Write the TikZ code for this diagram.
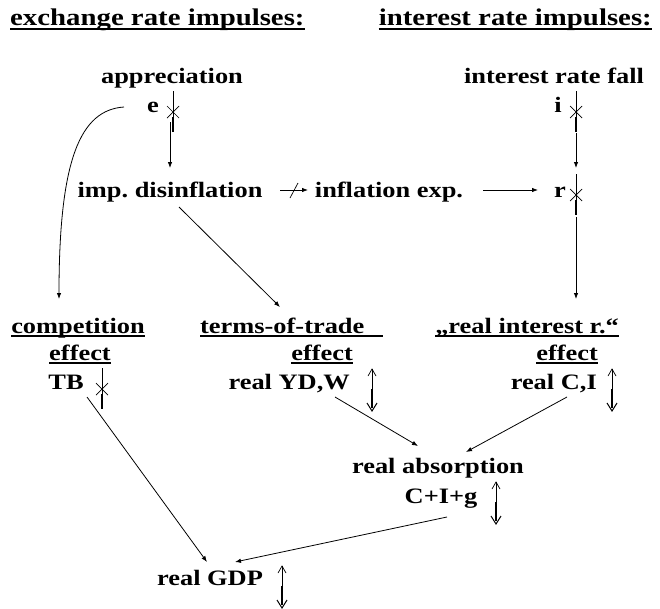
\documentclass[tikz,border=0pt]{standalone}
\usepackage{fontspec}
\newfontfamily\pal{Liberation Serif}[FakeStretch=1.2]
\usetikzlibrary{arrows.meta}
\tikzset{
  txt/.style={inner sep=0pt, anchor=base, font=\pal\bfseries\fontsize{22}{26}\selectfont},
  hdr/.style={inner sep=0pt, font=\pal\bfseries\fontsize{24}{28}\selectfont},
  ul/.style={line width=1.6pt},
  arr/.style={line width=0.8pt, -{Latex[length=6pt,width=4.5pt]}},
  thinln/.style={line width=0.7pt},
  crossed/.pic={
    \draw[thinln] (0,-21) -- (0,6);
    \draw[thinln] (-6,-6) -- (0,0) -- (6,-6);
    \draw[thinln] (-6,6) -- (0,0) -- (6,6);
    \draw[line width=2pt] (0,5) -- (0,20);
  },
  updown/.pic={
    \draw[thinln] (-4,7) -- (0,0) -- (4,7);
    \draw[thinln] (0,0) -- (0,22);
    \draw[line width=2pt] (0,20) -- (0,39);
    \draw[line width=1pt] (-5,34) -- (0,42) -- (5,34);
  }
}
\begin{document}
\begin{tikzpicture}[x=1pt,y=-1pt]
\useasboundingbox (0,0) rectangle (660,608);

% headers
\node[hdr, anchor=base west] (h1) at (10,25) {exchange rate impulses:};
\node[hdr, anchor=base east] (h2) at (652,25) {interest rate impulses:};
\draw[ul] ([yshift=-4pt]h1.base west) -- ([yshift=-4pt]h1.base east);
\draw[ul] ([yshift=-4pt]h2.base west) -- ([yshift=-4pt]h2.base east);

% texts
\node[txt] (app) at (172,83) {appreciation};
\node[txt] (e) at (153,112) {e};
\node[txt] (irf) at (554,83) {interest rate fall};
\node[txt] (i) at (558,112) {i};
\node[txt] (imp) at (170,197) {imp.\ disinflation};
\node[txt] (inf) at (389,197) {inflation exp.};
\node[txt] (r) at (560,197) {r};
\node[txt] (comp) at (78,333) {competition};
\node[txt] (ceff) at (80,360) {effect};
\node[txt] (tb) at (66,389) {TB};
\node[txt, anchor=base west] (tot) at (200,333) {terms-of-trade};
\node[txt, anchor=base east] (teff) at (353,360) {effect};
\node[txt, anchor=base east] (yd) at (350,389) {real YD,W};
\node[txt, anchor=base east] (rir) at (619,333) {„real interest r.“};
\node[txt, anchor=base east] (reff) at (598,360) {effect};
\node[txt, anchor=base east] (ci) at (597,389) {real C,I};
\node[txt] (abs) at (438,473) {real absorption};
\node[txt] (cig) at (441,503) {C+I+g};
\node[txt] (gdp) at (210,585) {real GDP};

% underlines
\foreach \n in {comp,ceff,teff,rir,reff}
  \draw[ul] ([yshift=-3pt]\n.base west) -- ([yshift=-3pt]\n.base east);
\draw[ul] ([yshift=-3pt]tot.base west) -- ([yshift=-3pt,xshift=18pt]tot.base east);

% change symbols
\pic at (173,112) {crossed};
\pic at (576,112) {crossed};
\pic at (576,195) {crossed};
\pic at (102,389) {crossed};
\pic at (372,369) {updown};
\pic at (612,369) {updown};
\pic at (496,482) {updown};
\pic at (282,566) {updown};

% connector end points
\coordinate (eS) at (170,122);
\coordinate (impN) at (170,168);
\coordinate (eW) at (124,107);
\coordinate (compN) at (59,299);
\coordinate (impE) at (280,190);
\coordinate (infW) at (308,190);
\coordinate (infE) at (483,190);
\coordinate (rW) at (538,190);
\coordinate (iS) at (576,133);
\coordinate (rN) at (576,168);
\coordinate (rS) at (576,217);
\coordinate (rirN) at (576,299);
\coordinate (impS) at (179,207);
\coordinate (totN) at (280,307);
\coordinate (tbS) at (87,397);
\coordinate (gdpL) at (207,562);
\coordinate (ydS) at (335,397);
\coordinate (absL) at (418,446);
\coordinate (ciS) at (567,397);
\coordinate (absR) at (466,452);
\coordinate (cigS) at (447,517);
\coordinate (gdpR) at (235,562);

% connectors
\draw[arr] (eS) -- (impN);
\draw[arr] (eW) .. controls (80,110) and (59,160) .. (compN);
\draw[arr] (impE) -- (infW);
\draw[thinln] (290,198) -- (298,183);
\draw[arr] (infE) -- (rW);
\draw[arr] (iS) -- (rN);
\draw[arr] (rS) -- (rirN);
\draw[arr] (impS) -- (totN);
\draw[arr] (tbS) -- (gdpL);
\draw[arr] (ydS) -- (absL);
\draw[arr] (ciS) -- (absR);
\draw[arr] (cigS) -- (gdpR);
\end{tikzpicture}
\end{document}
